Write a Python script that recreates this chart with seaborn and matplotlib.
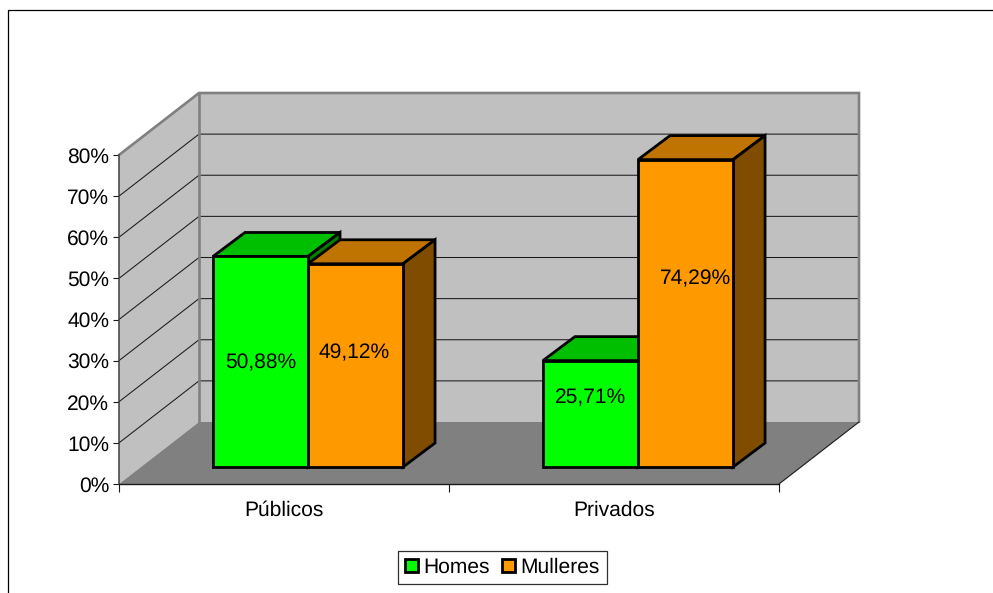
import matplotlib
matplotlib.use('Agg')
import matplotlib.pyplot as plt
import pandas as pd
import seaborn as sns
from matplotlib.patches import Polygon, Rectangle

# Values
categories = ['Públicos', 'Privados']
series_names = ['Homes', 'Mulleres']
homes = [50.88, 25.71]
mulleres = [49.12, 74.29]
y_ticks = [0, 10, 20, 30, 40, 50, 60, 70, 80]
bar_labels = [['50,88%', '25,71%'], ['49,12%', '74,29%']]

# Colours: front, top, side of each bar
front_colors = ['#00FF00', '#FF9900']
top_colors = ['#00BF00', '#BF7300']
side_colors = ['#008000', '#804D00']

W, H = 993, 593
XMIN, XMAX, YMAX = -0.5, 1.5, 80

sns.set_theme(style='white')
plt.rcParams['font.family'] = ['Liberation Sans', 'DejaVu Sans']
plt.rcParams['text.hinting'] = 'no_hinting'
plt.rcParams['text.hinting_factor'] = 1
FS = 15.2

data = pd.DataFrame({
    'categoria': categories * 2,
    'serie': [series_names[0]] * 2 + [series_names[1]] * 2,
    'valor': homes + mulleres,
})

fig = plt.figure(figsize=(W / 100, H / 100), dpi=100, facecolor='white')


def axes_box(left, right, top, bottom):
    return [left / W, 1 - bottom / H, (right - left) / W, (bottom - top) / H]


# Chart area border, runs off the right and bottom of the picture
fig.add_artist(Rectangle((8 / W, -0.1), 1.1, 1.1 - 10 / H, transform=fig.transFigure,
                         fill=False, edgecolor='black', linewidth=0.9))

# Front plane: walls, floor and axes
ax = fig.add_axes(axes_box(119, 779, 155, 484))
ax.set_xlim(XMIN, XMAX)
ax.set_ylim(0, YMAX)
ax.patch.set_visible(False)

# Chart depth, in data units
dx = 80 / 660 * (XMAX - XMIN)
dy = 62 / 329 * YMAX

ax.add_patch(Polygon([(XMIN, 0), (XMIN + dx, dy), (XMIN + dx, YMAX + dy), (XMIN, YMAX)],
                     facecolor='#C0C0C0', edgecolor='none', clip_on=False, zorder=1))
ax.add_patch(Rectangle((XMIN + dx, dy), XMAX - XMIN, YMAX, facecolor='#C0C0C0',
                       edgecolor='none', clip_on=False, zorder=1))
ax.add_patch(Polygon([(XMIN, 0), (XMAX, 0), (XMAX + dx, dy), (XMIN + dx, dy)],
                     facecolor='#808080', edgecolor='none', clip_on=False, zorder=1))

for v in y_ticks[1:-1]:
    ax.plot([XMIN, XMIN + dx, XMAX + dx], [v, v + dy, v + dy], color='#1a1a1a', lw=0.75,
            clip_on=False, zorder=2)

# Grey outline of the walls
ax.plot([XMIN, XMIN + dx, XMAX + dx, XMAX + dx], [YMAX, YMAX + dy, YMAX + dy, dy],
        color='#808080', lw=1.9, clip_on=False, zorder=3, solid_joinstyle='miter')
ax.plot([XMIN + dx, XMIN + dx], [dy, YMAX + dy], color='#808080', lw=1.9, clip_on=False, zorder=3)
ax.plot([XMAX, XMAX + dx], [0, dy], color='#1a1a1a', lw=0.8, clip_on=False, zorder=3)

ax.set_yticks(y_ticks)
ax.set_yticklabels([f'{v}%' for v in y_ticks], fontsize=FS, color='black')
ax.set_xticks([-0.5, 0.5, 1.5])
ax.set_xticklabels([])
ax.set_xticks([0, 1], labels=categories, minor=True, fontsize=FS, color='black')
ax.tick_params(axis='y', left=True, length=4, width=0.8, color='#1a1a1a', pad=3)
ax.tick_params(axis='x', which='major', bottom=True, length=5.5, width=0.8, color='#1a1a1a')
ax.tick_params(axis='x', which='minor', bottom=False, length=0, pad=12)
sns.despine(ax=ax)
ax.spines['left'].set_color('#404040')
ax.spines['left'].set_linewidth(1.1)
ax.spines['bottom'].set_color('#1a1a1a')
ax.spines['bottom'].set_linewidth(1.0)
ax.spines['left'].set_zorder(4)
ax.spines['bottom'].set_zorder(4)

# Bars sit on a plane pushed back into the floor
ax_bars = fig.add_axes(axes_box(143, 803, 136, 467))
ax_bars.patch.set_visible(False)
sns.barplot(data=data, x='categoria', y='valor', hue='serie', order=categories,
            hue_order=series_names, palette=front_colors, width=0.576, gap=0, errorbar=None,
            edgecolor='black', linewidth=2.0, saturation=1, ax=ax_bars)
ax_bars.set_xlim(XMIN, XMAX)
ax_bars.set_ylim(0, YMAX)
ax_bars.axis('off')

# Bar depth, in data units
bar_dx = 32 / 660 * (XMAX - XMIN)
bar_dy = 24 / 331 * YMAX

# Label shifts in pixels, some labels were moved by hand in the original
label_shift = [[(0, -1), (0, 16)], [(-1, 13), (10, 34)]]

edge = dict(edgecolor='black', linewidth=2.0, joinstyle='miter', clip_on=False)
for s, container in enumerate(ax_bars.containers):
    for c, bar in enumerate(container):
        x0, w, h = bar.get_x(), bar.get_width(), bar.get_height()
        x1 = x0 + w
        bar.set_clip_on(False)
        bar.set_zorder(10 + 3 * s)
        ax_bars.add_patch(Polygon([(x0, h), (x1, h), (x1 + bar_dx, h + bar_dy), (x0 + bar_dx, h + bar_dy)],
                                  facecolor=top_colors[s], zorder=9 + 3 * s, **edge))
        ax_bars.add_patch(Polygon([(x1, 0), (x1 + bar_dx, bar_dy), (x1 + bar_dx, h + bar_dy), (x1, h)],
                                  facecolor=side_colors[s], zorder=9 + 3 * s, **edge))
        ax_bars.annotate(bar_labels[s][c], (x0 + w / 2, h / 2), xytext=label_shift[s][c],
                         textcoords='offset pixels', ha='center', va='center',
                         fontsize=FS, color='black', zorder=30)

# Legend
handles, labels = ax_bars.get_legend_handles_labels()
for handle in handles:
    handle.set_edgecolor('black')
    handle.set_linewidth(2.0)
leg = ax_bars.legend(handles, labels, loc='center', bbox_to_anchor=(502.5 / W, 1 - 567.5 / H),
                     bbox_transform=fig.transFigure, ncol=2, fontsize=FS, frameon=True,
                     fancybox=False, framealpha=1, edgecolor='#303030', labelcolor='black',
                     handlelength=0.6, handleheight=0.6, handletextpad=0.25, columnspacing=0.6,
                     borderpad=0.33, borderaxespad=0)
leg.get_frame().set_linewidth(0.9)
leg.set_zorder(40)

fig.savefig('out.png', dpi=100)
